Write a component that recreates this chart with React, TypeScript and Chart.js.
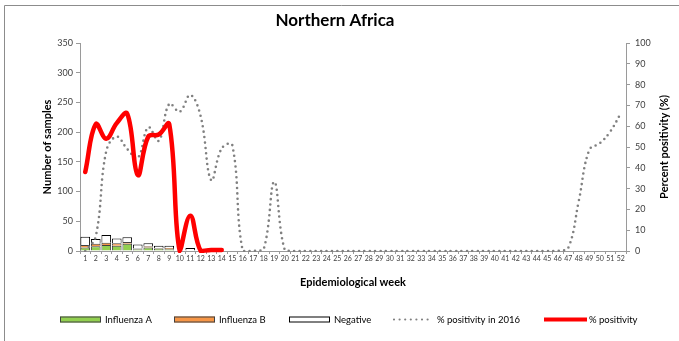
import React, { useEffect, useRef } from 'react';
import { Chart, registerables } from 'chart.js';

Chart.register(...registerables);

const FONT = 'Lato, "Liberation Sans", sans-serif';

const weeks = [
  '1','2','3','4','5','6','7','8','9','10','11','12','13','14','15','16','17','18','19','20',
  '21','22','23','24','25','26','27','28','29','30','31','32','33','34','35','36','37','38','39','40',
  '41','42','43','44','45','46','47','48','49','50','51','52',
];

const influenzaA = [6, 8, 10, 9, 12, 3, 6, 4, 3, null, null, null];
const influenzaB = [4, 4, 4, 4, 3, 1, 2, 1, 2, null, null, null];
const negative = [14, 8, 13, 8, 8, 7, 5, 4, 4, null, 5, 1];

const positivity = [38, 61, 54, 61.5, 66, 36.5, 55, 56, 61, 0, 17, 0, 0.5, 0.5];

const positivity2016 = [
  0, 7, 48, 55, 49, 44.7, 59.5, 53, 70.7, 67,
  75, 64.6, 34, 49.4, 51, 0, 0, 1, 33.3, 0.5,
  0, 0, 0, 0, 0, 0, 0, 0, 0, 0,
  0, 0, 0, 0, 0, 0, 0, 0, 0, 0,
  0, 0, 0, 0, 0, 0, 1.5, 24, 48.6, 51.8,
  57.4, 66.2,
];

const chartTitle = 'Northern Africa';
const leftAxisTitle = 'Number of samples';
const rightAxisTitle = 'Percent positivity (%)';
const xAxisTitle = 'Epidemiological week';

const legendItems = [
  { label: 'Influenza A', kind: 'box', fill: '#92D050', stroke: '#404040', x: 60 },
  { label: 'Influenza B', kind: 'box', fill: '#F79646', stroke: '#404040', x: 174 },
  { label: 'Negative', kind: 'box', fill: '#FFFFFF', stroke: '#000000', x: 289 },
  { label: '% positivity in 2016', kind: 'dots', stroke: '#808080', x: 392 },
  { label: '% positivity', kind: 'line', stroke: '#FF0000', x: 544 },
];

const decor = {
  id: 'decor',
  afterDraw(chart: any) {
    const ctx = chart.ctx;
    const area = chart.chartArea;
    ctx.save();
    // frame
    ctx.strokeStyle = '#8c8c8c';
    ctx.lineWidth = 1;
    ctx.beginPath();
    ctx.moveTo(4.5, 341);
    ctx.lineTo(4.5, 5.5);
    ctx.lineTo(679, 5.5);
    ctx.stroke();

    // title
    ctx.fillStyle = '#000';
    ctx.font = `bold 17px ${FONT}`;
    ctx.textAlign = 'center';
    ctx.textBaseline = 'middle';
    ctx.fillText(chartTitle, 335, 21);

    // right axis title
    ctx.save();
    ctx.translate(664, (area.top + area.bottom) / 2);
    ctx.rotate(-Math.PI / 2);
    ctx.font = `bold 11px ${FONT}`;
    ctx.fillText(rightAxisTitle, 0, 0);
    ctx.restore();

    // legend
    const ly = 319.5;
    ctx.font = `9.5px ${FONT}`;
    ctx.textAlign = 'left';
    ctx.textBaseline = 'middle';
    for (const it of legendItems) {
      const w = 41;
      if (it.kind === 'box') {
        ctx.fillStyle = it.fill as string;
        ctx.fillRect(it.x, ly - 3, w, 6);
        ctx.strokeStyle = it.stroke;
        ctx.lineWidth = 1;
        ctx.strokeRect(it.x + 0.5, ly - 2.5, w - 1, 5);
      } else if (it.kind === 'dots') {
        ctx.strokeStyle = it.stroke;
        ctx.lineWidth = 2.2;
        ctx.lineCap = 'round';
        ctx.setLineDash([0, 5.6]);
        ctx.beginPath();
        ctx.moveTo(it.x + 2, ly);
        ctx.lineTo(it.x + w, ly);
        ctx.stroke();
        ctx.setLineDash([]);
      } else {
        ctx.strokeStyle = it.stroke;
        ctx.lineWidth = 4;
        ctx.lineCap = 'butt';
        ctx.beginPath();
        ctx.moveTo(it.x, ly);
        ctx.lineTo(it.x + w + 2, ly);
        ctx.stroke();
      }
      ctx.fillStyle = '#000';
      ctx.fillText(it.label, it.x + w + 4, ly);
    }
    ctx.restore();
  },
};

export default function App() {
  const ref = useRef<HTMLCanvasElement | null>(null);

  useEffect(() => {
    document.body.style.margin = '0';
    const canvas = ref.current;
    if (!canvas) return;
    Chart.defaults.font.family = FONT;
    const axisColor = '#9a9a9a';
    const chart = new Chart(canvas, {
      type: 'bar',
      data: {
        labels: weeks,
        datasets: [
          {
            type: 'line',
            label: '% positivity',
            data: positivity,
            yAxisID: 'y1',
            borderColor: '#FF0000',
            borderWidth: 4.5,
            pointRadius: 0,
            tension: 0.4,
            borderCapStyle: 'round',
            borderJoinStyle: 'round',
            fill: false,
            clip: { left: 5, top: 5, right: 5, bottom: 2 },
            order: -1,
          } as any,
          {
            type: 'line',
            label: '% positivity in 2016',
            data: positivity2016,
            yAxisID: 'y1',
            borderColor: '#808080',
            borderWidth: 2.6,
            borderDash: [0, 5.4],
            borderCapStyle: 'round',
            pointRadius: 0,
            tension: 0.4,
            fill: false,
            clip: { left: 5, top: 5, right: 5, bottom: 1 },
            order: 0,
          } as any,
          {
            label: 'Influenza A',
            data: influenzaA,
            backgroundColor: '#92D050',
            borderColor: '#404040',
            borderWidth: 1,
            yAxisID: 'y',
            barPercentage: 0.92,
            categoryPercentage: 1,
            order: 1,
          },
          {
            label: 'Influenza B',
            data: influenzaB,
            backgroundColor: '#F79646',
            borderColor: '#404040',
            borderWidth: 1,
            yAxisID: 'y',
            barPercentage: 0.92,
            categoryPercentage: 1,
            order: 1,
          },
          {
            label: 'Negative',
            data: negative,
            backgroundColor: '#FFFFFF',
            borderColor: '#000000',
            borderWidth: 1,
            yAxisID: 'y',
            barPercentage: 0.92,
            categoryPercentage: 1,
            order: 1,
          },
        ],
      },
      options: {
        responsive: true,
        maintainAspectRatio: false,
        animation: false,
        layout: { padding: { top: 43, left: 38, right: 8, bottom: 50 } },
        plugins: {
          legend: { display: false },
          tooltip: { enabled: false },
          title: { display: false },
        },
        scales: {
          x: {
            stacked: true,
            offset: true,
            ticks: {
              autoSkip: false,
              maxRotation: 0,
              minRotation: 0,
              font: { size: 7, family: FONT },
              color: '#404040',
              padding: 1,
            },
            grid: { drawOnChartArea: false, tickLength: 3, color: axisColor, offset: true },
            border: { color: axisColor },
            title: {
              display: true,
              text: xAxisTitle,
              color: '#000',
              font: { size: 11, weight: 'bold', family: FONT },
              padding: { top: 0, bottom: 2.4 },
            },
            afterFit: (s: any) => { s.height = 40; },
          },
          y: {
            position: 'left',
            stacked: true,
            min: 0,
            max: 350,
            ticks: { stepSize: 50, font: { size: 9, family: FONT }, color: '#404040', padding: 3 },
            grid: { drawOnChartArea: false, tickLength: 4, color: axisColor },
            border: { color: axisColor },
            title: {
              display: true,
              text: leftAxisTitle,
              color: '#000',
              font: { size: 11, weight: 'bold', family: FONT },
              padding: { top: 2.4, bottom: 0 },
            },
            afterFit: (s: any) => { s.width = 42; },
          },
          y1: {
            position: 'right',
            stacked: false,
            min: 0,
            max: 100,
            ticks: { stepSize: 10, font: { size: 9, family: FONT }, color: '#404040', padding: 5 },
            grid: { drawOnChartArea: false, tickLength: 4, color: axisColor },
            border: { color: axisColor },
            afterFit: (s: any) => { s.width = 45; },
          },
        },
      } as any,
      plugins: [decor],
    });
    return () => chart.destroy();
  }, []);

  return (
    <div style={{ position: 'relative', width: 679, height: 341 }}>
      <canvas ref={ref} />
    </div>
  );
}
